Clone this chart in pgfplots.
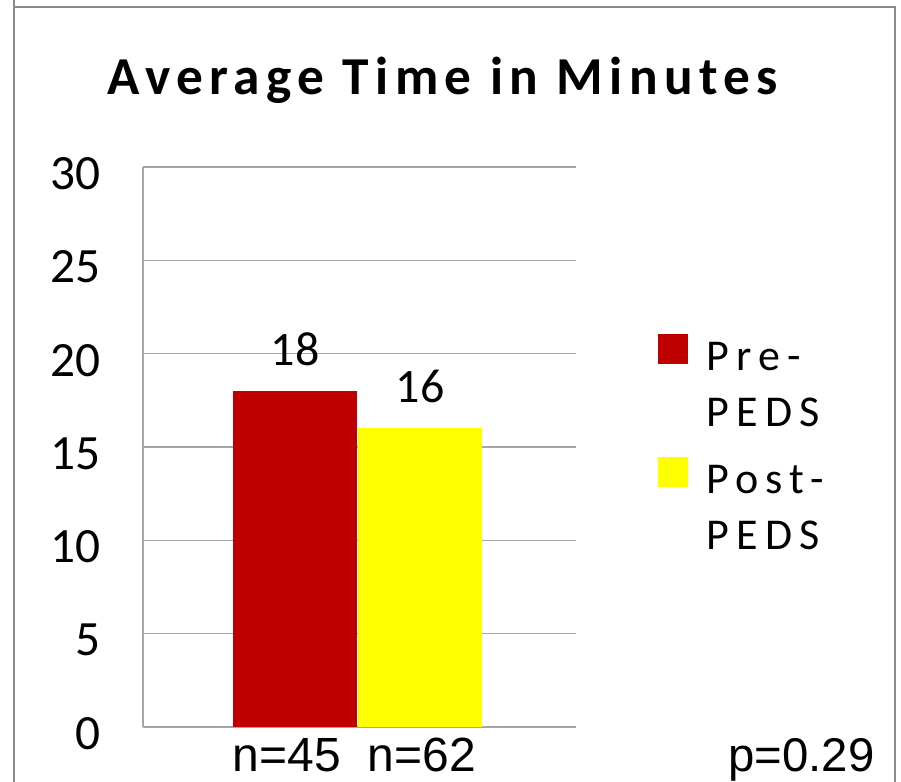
\documentclass[border=0pt]{standalone}
\usepackage{fontspec}
\setmainfont{Carlito}
\newfontfamily\titlefont[LetterSpace=12]{Carlito}
\newfontfamily\legfont[LetterSpace=16]{Carlito}
\newfontfamily\arialfont{Liberation Sans}
\usepackage{pgfplots}
\pgfplotsset{compat=1.18}
\definecolor{barred}{HTML}{C00000}
\definecolor{baryellow}{HTML}{FFFF00}
\definecolor{gridgray}{HTML}{A6A6A6}
\definecolor{framegray}{HTML}{8C8C8C}
\newcommand{\twoline}[2]{\vtop{\hbox{#1}\hbox{#2}}}
\begin{document}
\begin{tikzpicture}[x=0.75pt,y=0.75pt]
\useasboundingbox (0,0) rectangle (901,782);
\draw[framegray, line width=1.5pt] (14,790) -- (14,775) -- (895,775) -- (895,-10);
\draw[framegray, line width=1.5pt] (14,775) -- (14,-10);
\node[anchor=base, font=\titlefont\bfseries\fontsize{40}{42}\selectfont] at (443,687) {Average Time in Minutes};
\begin{axis}[
  at={(107.25pt,41.25pt)}, anchor=south west,
  width=324.75pt, height=420pt, scale only axis,
  xmin=143, xmax=576, ymin=0, ymax=30,
  axis x line=bottom, axis y line=left,
  axis line style={-, gridgray, line width=1pt},
  ytick={0,5,...,30},
  ymajorgrids, grid style={gridgray, line width=0.8pt},
  major tick length=0pt,
  xtick={287,422}, xticklabels={n=45,n=62},
  xticklabel style={font=\arialfont\fontsize{36}{36}\selectfont, anchor=north, inner sep=0pt, yshift=-8.25pt},
  yticklabel style={font=\fontsize{37}{37}\selectfont, anchor=east, inner sep=0pt, xshift=-32pt, yshift=-5pt},
  /pgf/number format/assume math mode=true,
  ybar, bar width=93pt,
  nodes near coords,
  every node near coord/.append style={font=\fontsize{36}{36}\selectfont, anchor=base, inner sep=0pt, yshift=19pt},
  legend style={at={(rel axis cs:1.189,0.703)}, anchor=north west, draw=none, fill=none, inner sep=0pt,
    row sep=61.5pt, font=\legfont\fontsize{33}{42}\selectfont,
    /tikz/every odd column/.append style={column sep=12pt},
    cells={anchor=base west}},
  legend image code/.code={\fill[#1] (0pt,5pt) rectangle (22.5pt,27.5pt);},
  clip=false,
]
\addplot[fill=barred, draw=none, bar shift=0pt] coordinates {(295,18)};
\addlegendentry{\twoline{Pre-}{PEDS}}
\addplot[fill=baryellow, draw=none, bar shift=0pt] coordinates {(420,16)};
\addlegendentry{\twoline{Post-}{PEDS}}
\end{axis}
\node[anchor=base west, font=\arialfont\fontsize{35.5}{36}\selectfont, inner sep=0pt] at (728,10) {p=0.29};
\end{tikzpicture}
\end{document}
